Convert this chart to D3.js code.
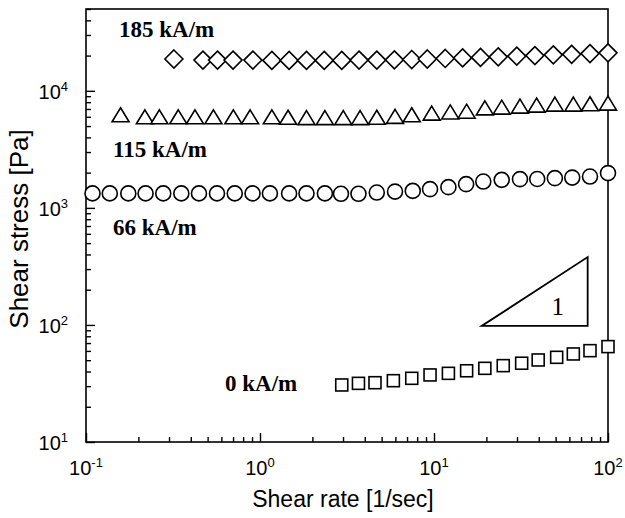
<!DOCTYPE html>
<html>
<head>
<meta charset="utf-8">
<script src="https://cdn.jsdelivr.net/npm/d3@7"></script>
<style>
body { margin: 0; background: #fff; }
</style>
</head>
<body>
<script>
"use strict";

// axes
const xDomain = [0.1, 100];
const yDomain = [10, 50000];
const xMajorTicks = [0.1, 1, 10, 100];
const xTickExp = ["-1", "0", "1", "2"];
const yMajorTicks = [10, 100, 1000, 10000];
const yTickExp = ["1", "2", "3", "4"];

// 185 kA/m (diamonds)
const diamondX = [0.32, 0.47, 0.57, 0.70, 0.91, 1.17, 1.47, 1.85, 2.34, 2.95, 3.71, 4.69, 5.92, 7.45, 9.15,
                  11.6, 14.6, 18.5, 23.4, 29.9, 38.0, 48.5, 61.8, 78.8, 100];
const diamondY = [18700, 18300, 18300, 18300, 18300, 18200, 18200, 18200, 18200, 18200, 18300, 18300, 18400, 18500, 18700,
                  18900, 19100, 19300, 19500, 19800, 20000, 20300, 20500, 20800, 21100];

// 115 kA/m (triangles)
const triangleX = [0.158, 0.218, 0.264, 0.339, 0.423, 0.54, 0.703, 0.877, 1.17, 1.45, 1.85, 2.36, 3.01, 3.76,
                   4.69, 5.97, 7.45, 9.7, 12.4, 15.4, 19.6, 24.5, 31.2, 38.9, 49.5, 63.2, 78.8, 100];
const triangleY = [6250, 6000, 6000, 6000, 6000, 6000, 6000, 6000, 6000, 5950, 5900, 5900, 5900, 5900,
                   5950, 6050, 6250, 6450, 6600, 6700, 7150, 7250, 7400, 7550, 7700, 7700, 7750, 7850];

// 66 kA/m (circles)
const circleX = [0.109, 0.137, 0.175, 0.22, 0.278, 0.353, 0.446, 0.566, 0.716, 0.906, 1.14, 1.47, 1.85, 2.36, 2.92,
                 3.68, 4.69, 5.97, 7.55, 9.49, 12.1, 15.3, 19.2, 24.5, 31.2, 39.2, 49.5, 62.3, 78.8, 100];
const circleY = [1330, 1330, 1330, 1330, 1330, 1330, 1330, 1330, 1330, 1330, 1330, 1330, 1330, 1330, 1320,
                 1320, 1352, 1378, 1397, 1445, 1503, 1595, 1679, 1735, 1759, 1765, 1794, 1815, 1852, 1982];

// 0 kA/m (squares)
const squareX = [2.95, 3.68, 4.58, 5.84, 7.45, 9.49, 12.1, 15.4, 19.6, 25.0, 31.9, 39.7, 50.7, 63.2, 78.8, 100];
const squareY = [30.7, 31.7, 32.1, 33.4, 35.0, 37.4, 38.6, 40.6, 42.6, 44.9, 47.1, 50.2, 52.9, 56.5, 60.3, 65.3];

// slope triangle (x, y) corners and its label
const slopeX = [18.8, 76.4, 76.4];
const slopeY = [98, 98, 380];
const slopeLabel = "1";

const seriesLabels = ["185 kA/m", "115 kA/m", "66 kA/m", "0 kA/m"];

// #############################################################################

const width = 625, height = 518;
const margin = {top: 9, right: 17, bottom: 76, left: 86};
const w = width - margin.left - margin.right;
const h = height - margin.top - margin.bottom;

const svg = d3.select("body").append("svg")
  .attr("width", width)
  .attr("height", height)
  .attr("viewBox", `0 0 ${width} ${height}`);

const g = svg.append("g").attr("transform", `translate(${margin.left},${margin.top})`);

const xScale = d3.scaleLog().domain(xDomain).range([0, w]);
const yScale = d3.scaleLog().domain(yDomain).range([h, 0]);

const sans = "'Liberation Sans', Arial, sans-serif";
const serif = "'Liberation Serif', 'Times New Roman', serif";

// minor + major ticks, pointing inward
const isMajor = v => Math.abs(Math.log10(v) - Math.round(Math.log10(v))) < 1e-9;
const xMinor = xScale.ticks().filter(v => !isMajor(v));
const yMinor = yScale.ticks().filter(v => !isMajor(v));

const tickAxis = (axis, size, values) => axis.tickValues(values).tickSize(size).tickFormat("");

g.append("g").attr("transform", `translate(0,${h})`)
  .call(tickAxis(d3.axisBottom(xScale), -5, xMinor));
g.append("g").attr("transform", `translate(0,${h})`)
  .call(tickAxis(d3.axisBottom(xScale), -9, xMajorTicks));
g.append("g")
  .call(tickAxis(d3.axisLeft(yScale), -5, yMinor));
g.append("g")
  .call(tickAxis(d3.axisLeft(yScale), -9, yMajorTicks));

g.selectAll(".domain").remove();
g.selectAll(".tick line").attr("stroke", "#000").attr("stroke-width", 1.4);

g.append("rect")
  .attr("width", w).attr("height", h)
  .attr("fill", "none").attr("stroke", "#000").attr("stroke-width", 1.6);

// tick labels with superscripts
const xl = g.append("g").selectAll("text")
  .data(xMajorTicks)
  .enter()
  .append("text")
  .attr("x", d => xScale(d))
  .attr("y", h + 33)
  .attr("text-anchor", "middle")
  .attr("font-family", sans)
  .attr("font-size", 20);
xl.append("tspan").text("10");
xl.append("tspan").attr("dy", -8).attr("font-size", 13).text((d, i) => xTickExp[i]);

const yl = g.append("g").selectAll("text")
  .data(yMajorTicks)
  .enter()
  .append("text")
  .attr("x", -18)
  .attr("y", d => yScale(d) + 8)
  .attr("text-anchor", "end")
  .attr("font-family", sans)
  .attr("font-size", 20);
yl.append("tspan").text("10");
yl.append("tspan").attr("dy", -8).attr("font-size", 13).text((d, i) => yTickExp[i]);

// axis titles
svg.append("text")
  .attr("x", 343).attr("y", 507)
  .attr("text-anchor", "middle")
  .attr("font-family", sans).attr("font-size", 23)
  .text("Shear rate [1/sec]");

svg.append("text")
  .attr("transform", "translate(28,229) rotate(-90)")
  .attr("text-anchor", "middle")
  .attr("font-family", sans).attr("font-size", 26)
  .text("Shear stress [Pa]");

// markers
const zip = (xs, ys) => xs.map((x, i) => ({x: x, y: ys[i]}));
const markerStyle = sel => sel.attr("fill", "#fff").attr("stroke", "#000").attr("stroke-width", 1.6);

markerStyle(g.append("g").selectAll("path")
  .data(zip(diamondX, diamondY))
  .enter()
  .append("path")
  .attr("d", "M0,-9L9,0L0,9L-9,0Z")
  .attr("transform", d => `translate(${xScale(d.x)},${yScale(d.y)})`));

markerStyle(g.append("g").selectAll("path")
  .data(zip(triangleX, triangleY))
  .enter()
  .append("path")
  .attr("d", "M0,-7L8.5,7L-8.5,7Z")
  .attr("transform", d => `translate(${xScale(d.x)},${yScale(d.y)})`));

markerStyle(g.append("g").selectAll("circle")
  .data(zip(circleX, circleY))
  .enter()
  .append("circle")
  .attr("cx", d => xScale(d.x))
  .attr("cy", d => yScale(d.y))
  .attr("r", 7.5));

markerStyle(g.append("g").selectAll("rect")
  .data(zip(squareX, squareY))
  .enter()
  .append("rect")
  .attr("x", d => xScale(d.x) - 6)
  .attr("y", d => yScale(d.y) - 6)
  .attr("width", 12)
  .attr("height", 12));

// slope triangle
g.append("path")
  .datum(zip(slopeX, slopeY))
  .attr("d", d => d3.line().x(p => xScale(p.x)).y(p => yScale(p.y)).curve(d3.curveLinearClosed)(d))
  .attr("fill", "none").attr("stroke", "#000").attr("stroke-width", 1.8);

g.append("text")
  .attr("x", xScale(51.5))
  .attr("y", yScale(122))
  .attr("text-anchor", "middle")
  .attr("font-family", serif).attr("font-size", 25)
  .text(slopeLabel);

// series labels
const labelPos = [[119, 37], [113, 157], [113, 235], [225, 391]];
svg.append("g").selectAll("text")
  .data(seriesLabels)
  .enter()
  .append("text")
  .attr("x", (d, i) => labelPos[i][0])
  .attr("y", (d, i) => labelPos[i][1])
  .attr("font-family", serif)
  .attr("font-weight", "bold")
  .attr("font-size", 23)
  .text(d => d);
</script>
</body>
</html>
